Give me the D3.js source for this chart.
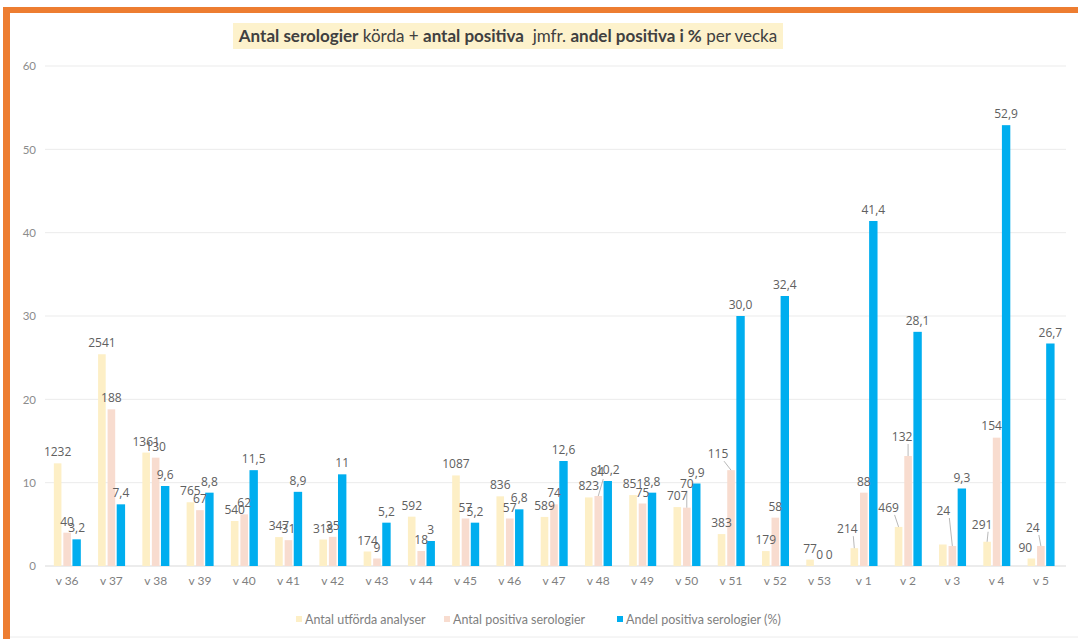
<!DOCTYPE html>
<html>
<head>
<meta charset="utf-8">
<script src="https://cdn.jsdelivr.net/npm/d3@7/dist/d3.min.js"></script>
<style>
  html, body { margin: 0; padding: 0; background: #fff; }
  svg { display: block; }
</style>
</head>
<body>
<svg id="chart" width="1078" height="639"></svg>
<script>
// ---- data ----
const weeks = ["v 36","v 37","v 38","v 39","v 40","v 41","v 42","v 43","v 44","v 45","v 46","v 47","v 48","v 49","v 50","v 51","v 52","v 53","v 1","v 2","v 3","v 4","v 5"];
const analyser = [1232,2541,1361,765,540,347,318,174,592,1087,836,589,823,851,707,383,179,77,214,469,258,291,90];
const positiva = [40,188,130,67,62,31,35,9,18,57,57,74,84,75,70,115,58,0,88,132,24,154,24];
const andel = [3.2,7.4,9.6,8.8,11.5,8.9,11,5.2,3,5.2,6.8,12.6,10.2,8.8,9.9,30.0,32.4,0,41.4,28.1,9.3,52.9,26.7];
const andelLabels = ["3,2","7,4","9,6","8,8","11,5","8,9","11","5,2","3","5,2","6,8","12,6","10,2","8,8","9,9","30,0","32,4","0","41,4","28,1","9,3","52,9","26,7"];
const hiddenAnalysLabels = ["v 3"];
const yTicks = [0,10,20,30,40,50,60];
const seriesNames = ["Antal utförda analyser","Antal positiva serologier","Andel positiva serologier (%)"];
const seriesScale = [100, 10, 1]; // plotted value = raw / scale

// ---- styling / layout ----
const colors = ["#fdefc6","#f8dccf","#00aeef"];
// manual label nudges (dx, dy, leader line) as in the original chart
const labelNudge = {
  "v 51|1": [-13,-5,true],
  "v 1|0": [-7,-8,true],
  "v 2|0": [-10,-8,true],
  "v 2|1": [-6,-8,true],
  "v 3|1": [-9,-24,true],
  "v 4|0": [-5,-6,true],
  "v 4|1": [-5,-1,false],
  "v 5|1": [-8,-7,true],
  "v 5|0": [-6,0,false],
  "v 50|1": [0,-13,true],
  "v 48|1": [-1,-13,true]
};

const svg = d3.select("#chart");

// frame
svg.append("rect").attr("x",3).attr("y",7).attr("width",1075).attr("height",6).attr("fill","#ed7d31");
svg.append("rect").attr("x",3).attr("y",7).attr("width",7).attr("height",632).attr("fill","#ed7d31");
svg.append("line").attr("x1",10).attr("x2",1078).attr("y1",637).attr("y2",637).attr("stroke","#ececec");

// title
const titleG = svg.append("g");
titleG.append("rect").attr("x",233).attr("y",23).attr("width",550).attr("height",26).attr("fill","#fdf2cc");
const title = titleG.append("text").attr("x",508).attr("y",42).attr("text-anchor","middle")
  .style("font-family","Lato").style("font-size","17px").attr("fill","#404040");
[["Antal serologier",true],[" körda + ",false],["antal positiva",true],["  jmfr. ",false],["andel positiva i %",true],[" per vecka",false]]
  .forEach(([t,b]) => title.append("tspan").text(t).style("font-weight", b ? "bold" : "normal").attr("xml:space","preserve"));

// scales
const x = d3.scaleBand().domain(weeks).range([45, 1063]).paddingInner(0).paddingOuter(0);
const x1 = d3.scaleBand().domain(seriesNames).range([-14.25, 14.25]).paddingInner(0.2).paddingOuter(0.1);
const y = d3.scaleLinear().domain([0,60]).range([566, 66]);

// grid
svg.append("g").selectAll("line").data(yTicks).join("line")
  .attr("x1",45).attr("x2",1066).attr("y1",d=>y(d)).attr("y2",d=>y(d))
  .attr("stroke",(d)=> d===0 ? "#d9d9d9" : "#ebebeb").attr("stroke-width",1);

// y axis labels
const yAxis = d3.axisLeft(y).tickValues(yTicks).tickSize(0).tickPadding(0);
const yg = svg.append("g").attr("transform","translate(36,0)").call(yAxis);
yg.select(".domain").remove();
yg.selectAll("text").style("font-family","Lato").style("font-size","11.5px").attr("fill","#8c8c8c");

// x axis labels
const xAxis = d3.axisBottom(x).tickSize(0).tickPadding(0);
const xg = svg.append("g").attr("transform","translate(0,576)").call(xAxis);
xg.select(".domain").remove();
xg.selectAll("text").style("font-family","Lato").style("font-size","12px").attr("fill","#7f7f7f");

// bars
const rows = weeks.map((w,i)=>({w, vals:[analyser[i], positiva[i], andel[i]], labels:[String(analyser[i]), String(positiva[i]), andelLabels[i]]}));
const barData = [];
rows.forEach(r => seriesNames.forEach((s,k) => barData.push({w:r.w, s, k, v:r.vals[k]/seriesScale[k], label:r.labels[k]})));

const barCx = d => x(d.w) + x.bandwidth()/2 + x1(d.s) + x1.bandwidth()/2;

svg.append("g").selectAll("rect").data(barData).join("rect")
  .attr("x", d => x(d.w) + x.bandwidth()/2 + x1(d.s) - (d.k===2?0.4:0))
  .attr("width", d => x1.bandwidth() + (d.k===2?0.8:0))
  .attr("y", d => y(d.v))
  .attr("height", d => y(0) - y(d.v))
  .attr("fill", d => colors[d.k]);

// data labels
const lblData = barData.filter(d => !(d.k===0 && hiddenAnalysLabels.includes(d.w))).map(d => {
  const n = labelNudge[d.w + "|" + d.k] || [0,0,false];
  return Object.assign({}, d, {lx: barCx(d) + n[0], ly: y(d.v) - 7 + n[1], leader: n[2]});
});

svg.append("g").selectAll("line").data(lblData.filter(d => d.leader)).join("line")
  .attr("x1", d => d.lx + (d.lx < barCx(d) ? 6 : 0))
  .attr("y1", d => d.ly + 3)
  .attr("x2", d => barCx(d))
  .attr("y2", d => y(d.v))
  .attr("stroke","#a6a6a6").attr("stroke-width",0.8);

svg.append("g").selectAll("text").data(lblData).join("text")
  .attr("x", d => d.lx)
  .attr("y", d => d.ly)
  .attr("text-anchor","middle")
  .style("font-family","Open Sans").style("font-size","12px").attr("fill","#606060")
  .text(d => d.label);

// legend
const legX = [296, 444, 617];
const leg = svg.append("g");
seriesNames.forEach((s,k) => {
  leg.append("rect").attr("x",legX[k]).attr("y",616).attr("width",6).attr("height",6).attr("fill",colors[k]);
  leg.append("text").attr("x",legX[k]+9).attr("y",624).text(s)
    .style("font-family","Lato").style("font-size","12.5px").attr("fill","#7f7f7f");
});
</script>
</body>
</html>
